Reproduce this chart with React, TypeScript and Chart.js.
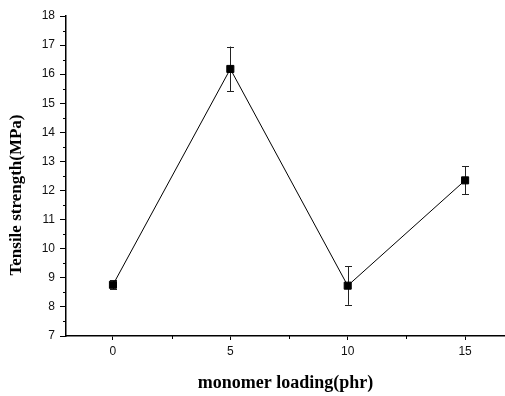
import React, { useEffect, useRef } from 'react';
import { Chart, registerables } from 'chart.js';

Chart.register(...registerables);

// ---- Data ----
const loading = [0, 5, 10, 15];
const strength = [8.76, 16.18, 8.73, 12.35];
const strengthErr = [0.15, 0.77, 0.66, 0.48];

// ---- Axis ticks / labels ----
const xMajorTicks = [0, 5, 10, 15];
const xMinorTicks = [2.5, 7.5, 12.5];
const yMinorTicks = [7.5, 8.5, 9.5, 10.5, 11.5, 12.5, 13.5, 14.5, 15.5, 16.5, 17.5];
const xTitle = 'monomer loading(phr)';
const yTitle = 'Tensile strength(MPa)';

const TITLE_FONT = 'bold 17px "Liberation Serif", "Times New Roman", serif';

const decorPlugin = {
  id: 'decor',
  beforeDatasetsDraw(chart: any) {
    const { ctx } = chart;
    const xs = chart.scales.x;
    const ys = chart.scales.y;
    ctx.save();
    // error bars (behind markers)
    ctx.strokeStyle = '#222';
    ctx.lineWidth = 1;
    for (let i = 0; i < loading.length; i++) {
      const px = Math.round(xs.getPixelForValue(loading[i])) + 0.5;
      const top = ys.getPixelForValue(strength[i] + strengthErr[i]);
      const bot = ys.getPixelForValue(strength[i] - strengthErr[i]);
      ctx.beginPath();
      ctx.moveTo(px, top);
      ctx.lineTo(px, bot);
      ctx.moveTo(px - 3.5, Math.round(top) + 0.5);
      ctx.lineTo(px + 3.5, Math.round(top) + 0.5);
      ctx.moveTo(px - 3.5, Math.round(bot) + 0.5);
      ctx.lineTo(px + 3.5, Math.round(bot) + 0.5);
      ctx.stroke();
    }
    ctx.restore();
  },
  afterDraw(chart: any) {
    const { ctx, chartArea } = chart;
    const xs = chart.scales.x;
    const ys = chart.scales.y;
    ctx.save();
    ctx.strokeStyle = '#000';
    ctx.lineWidth = 1;
    // minor ticks
    ctx.beginPath();
    for (const v of xMinorTicks) {
      const px = Math.round(xs.getPixelForValue(v)) + 0.5;
      ctx.moveTo(px, chartArea.bottom);
      ctx.lineTo(px, chartArea.bottom + 3);
    }
    for (const v of yMinorTicks) {
      const py = Math.round(ys.getPixelForValue(v)) + 0.5;
      ctx.moveTo(chartArea.left, py);
      ctx.lineTo(chartArea.left - 3, py);
    }
    ctx.stroke();
    // y title
    ctx.fillStyle = '#000';
    ctx.font = TITLE_FONT;
    ctx.textAlign = 'center';
    ctx.textBaseline = 'middle';
    ctx.translate(17, 195);
    ctx.rotate(-Math.PI / 2);
    ctx.fillText(yTitle, 0, 0);
    ctx.restore();
  },
};

export default function App() {
  const canvasRef = useRef<HTMLCanvasElement | null>(null);

  useEffect(() => {
    if (!canvasRef.current) return;
    const chart = new Chart(canvasRef.current, {
      type: 'line',
      data: {
        datasets: [
          {
            data: loading.map((x, i) => ({ x, y: strength[i] })),
            borderColor: '#000',
            borderWidth: 1,
            backgroundColor: '#000',
            pointStyle: 'rect',
            pointRadius: 5,
            pointBorderWidth: 1,
            pointBorderColor: '#000',
            pointBackgroundColor: '#000',
            tension: 0,
          },
        ],
      },
      options: {
        animation: false,
        responsive: false,
        maintainAspectRatio: false,
        devicePixelRatio: 1,
        layout: { autoPadding: false, padding: { top: 16, right: 0, left: 0, bottom: 0 } },
        plugins: { legend: { display: false }, tooltip: { enabled: false } },
        scales: {
          x: {
            type: 'linear',
            min: -2,
            max: 16.7,
            afterBuildTicks: (s: any) => {
              s.ticks = xMajorTicks.map((v) => ({ value: v }));
            },
            afterFit: (s: any) => {
              s.height = 60;
              s.paddingRight = 0;
              s.paddingLeft = 0;
            },
            grid: { drawOnChartArea: false, drawTicks: true, tickLength: 4, color: '#000' },
            border: { display: true, color: '#000', width: 1.5 },
            ticks: {
              padding: 4,
              color: '#111',
              font: { family: '"Liberation Sans", Arial, sans-serif', size: 12 },
            },
            title: {
              display: true,
              text: xTitle,
              color: '#000',
              font: { family: '"Liberation Serif", "Times New Roman", serif', size: 18, weight: 'bold' },
              padding: { top: 0, bottom: 2 },
            },
          },
          y: {
            type: 'linear',
            min: 7,
            max: 18,
            afterFit: (s: any) => {
              s.width = 66;
            },
            grid: { drawOnChartArea: false, drawTicks: true, tickLength: 6, color: '#000' },
            border: { display: true, color: '#000', width: 1.5 },
            ticks: {
              stepSize: 1,
              padding: 5,
              color: '#111',
              font: { family: '"Liberation Sans", Arial, sans-serif', size: 12 },
            },
          },
        },
      },
      plugins: [decorPlugin],
    });
    return () => chart.destroy();
  }, []);

  return (
    <div style={{ position: 'absolute', left: 0, top: 0, width: 505, height: 396, background: '#fff' }}>
      <canvas ref={canvasRef} width={505} height={396} style={{ display: 'block', width: 505, height: 396 }} />
    </div>
  );
}
